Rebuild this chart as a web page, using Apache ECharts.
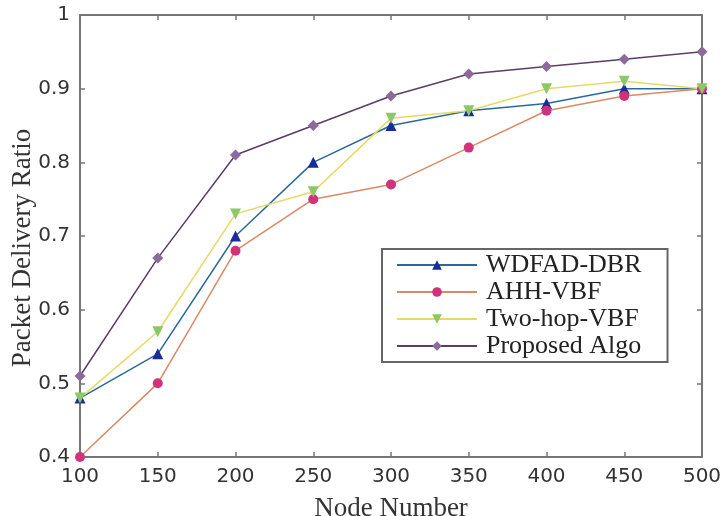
<!DOCTYPE html>
<html><head><meta charset="utf-8">
<script src="https://cdn.jsdelivr.net/npm/echarts@6/dist/echarts.min.js"></script>
<style>html,body{margin:0;padding:0;background:#fff}#c{width:722px;height:516px}</style>
</head><body><div id="c"></div>
<script>
var nodes = [100, 150, 200, 250, 300, 350, 400, 450, 500];
var wdfad = [0.48, 0.54, 0.70, 0.80, 0.85, 0.87, 0.88, 0.90, 0.90];
var ahh = [0.40, 0.50, 0.68, 0.75, 0.77, 0.82, 0.87, 0.89, 0.90];
var twohop = [0.48, 0.57, 0.73, 0.76, 0.86, 0.87, 0.90, 0.91, 0.90];
var proposed = [0.51, 0.67, 0.81, 0.85, 0.89, 0.92, 0.93, 0.94, 0.95];
var names = ['WDFAD-DBR', 'AHH-VBF', 'Two-hop-VBF', 'Proposed Algo'];

function pairs(v){ return nodes.map(function(n,i){ return [n, v[i]]; }); }
function ser(name, vals, lineColor, markColor, symbol, size, rot){
  return {name:name, type:'line', data:pairs(vals), xAxisIndex:0, yAxisIndex:0,
    symbol:symbol, symbolSize:size, symbolRotate:rot||0, showSymbol:true,
    lineStyle:{color:lineColor, width:1.5},
    itemStyle:{color:markColor, borderColor:markColor, borderWidth:0},
    animation:false};
}
var axisLine = {show:true, lineStyle:{color:'#777', width:2}};
var tick = {show:true, inside:true, length:5, lineStyle:{color:'#777', width:1.5}};
var lbl = {color:'#333', fontFamily:'DejaVu Sans', fontSize:20};
var nameStyle = {fontFamily:'Liberation Serif', fontSize:27, color:'#333'};
var chart = echarts.init(document.getElementById('c'));
chart.setOption({
  backgroundColor:'#fff',
  animation:false,
  grid:{left:80, right:20, top:15, bottom:59, containLabel:false, outerBoundsMode:'none'},
  xAxis:[
    {type:'value', min:100, max:500, interval:50, position:'bottom',
     name:'Node Number', nameLocation:'middle', nameGap:38, nameMoveOverlap:false,
     nameTextStyle:nameStyle,
     axisLine:axisLine, axisTick:tick, axisLabel:Object.assign({margin:10}, lbl), splitLine:{show:false}},
    {type:'value', min:100, max:500, interval:50, position:'top',
     axisLine:axisLine, axisTick:tick, axisLabel:{show:false}, splitLine:{show:false}}
  ],
  yAxis:[
    {type:'value', min:0.4, max:1, interval:0.1, position:'left',
     name:'Packet Delivery Ratio', nameLocation:'middle', nameGap:44, nameMoveOverlap:false,
     nameTextStyle:Object.assign({padding:[0,24,0,0]}, nameStyle),
     axisLine:axisLine, axisTick:tick, axisLabel:Object.assign({margin:10}, lbl), splitLine:{show:false}},
    {type:'value', min:0.4, max:1, interval:0.1, position:'right',
     axisLine:axisLine, axisTick:tick, axisLabel:{show:false}, splitLine:{show:false}}
  ],
  legend:{
    data:names, orient:'vertical', left:382, top:249,
    borderColor:'#666', borderWidth:2, padding:[3,26,3,14], itemGap:1,
    itemWidth:80, itemHeight:12,
    textStyle:{fontFamily:'Liberation Serif', fontSize:26, color:'#222', padding:[0,0,0,4]}
  },
  series:[
    ser(names[0], wdfad, '#2a6a9a', '#1a2c9a', 'triangle', 11),
    ser(names[1], ahh, '#d88a66', '#d2327a', 'circle', 10),
    ser(names[2], twohop, '#e8d864', '#8cc866', 'triangle', 11, 180),
    ser(names[3], proposed, '#5a3e66', '#8c6a9c', 'diamond', 11)
  ]
});
</script></body></html>
